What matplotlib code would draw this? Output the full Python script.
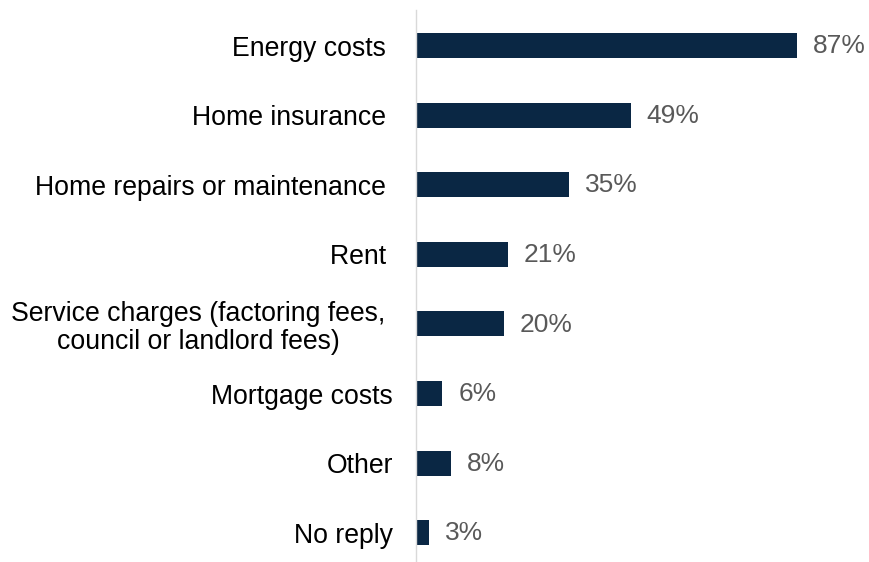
import numpy as np
import matplotlib.pyplot as plt

# Data
categories = [
    "Energy costs ",
    "Home insurance ",
    "Home repairs or maintenance ",
    "Rent ",
    "Service charges (factoring fees, \ncouncil or landlord fees) ",
    "Mortgage costs",
    "Other",
    "No reply",
]
values = [87, 49, 35, 21, 20, 6, 8, 3]

plt.rcParams['font.family'] = ['Liberation Sans', 'DejaVu Sans']

fig = plt.figure(figsize=(8.69, 5.62), dpi=100)
W, H = 869, 562
ax = fig.add_axes([416 / W, 0, (W - 416) / W, (H - 10) / H])

pos = np.arange(len(categories))
bars = ax.barh(pos, values, height=0.36, color='#0A2744')

for b, v in zip(bars, values):
    ax.annotate(f"{v}%", (b.get_width(), b.get_y() + b.get_height() / 2),
                xytext=(11.5, -0.5), textcoords='offset points',
                va='center', ha='left', fontsize=19, color='#595959')

ax.set_yticks(pos)
ax.set_yticklabels(categories, fontsize=19.2, color='#000000', ha='right',
                   multialignment='center', linespacing=1.1)
ax.tick_params(axis='y', length=0, pad=16.5)
ax.set_ylim(7.42, -0.51)
ax.set_xlim(0, 103.4)
ax.set_xticks([])

for s in ['top', 'right', 'bottom']:
    ax.spines[s].set_visible(False)
ax.spines['left'].set_color('#D9D9D9')
ax.spines['left'].set_linewidth(1.0)
ax.patch.set_alpha(0)

fig.savefig('out.png', dpi=100)
